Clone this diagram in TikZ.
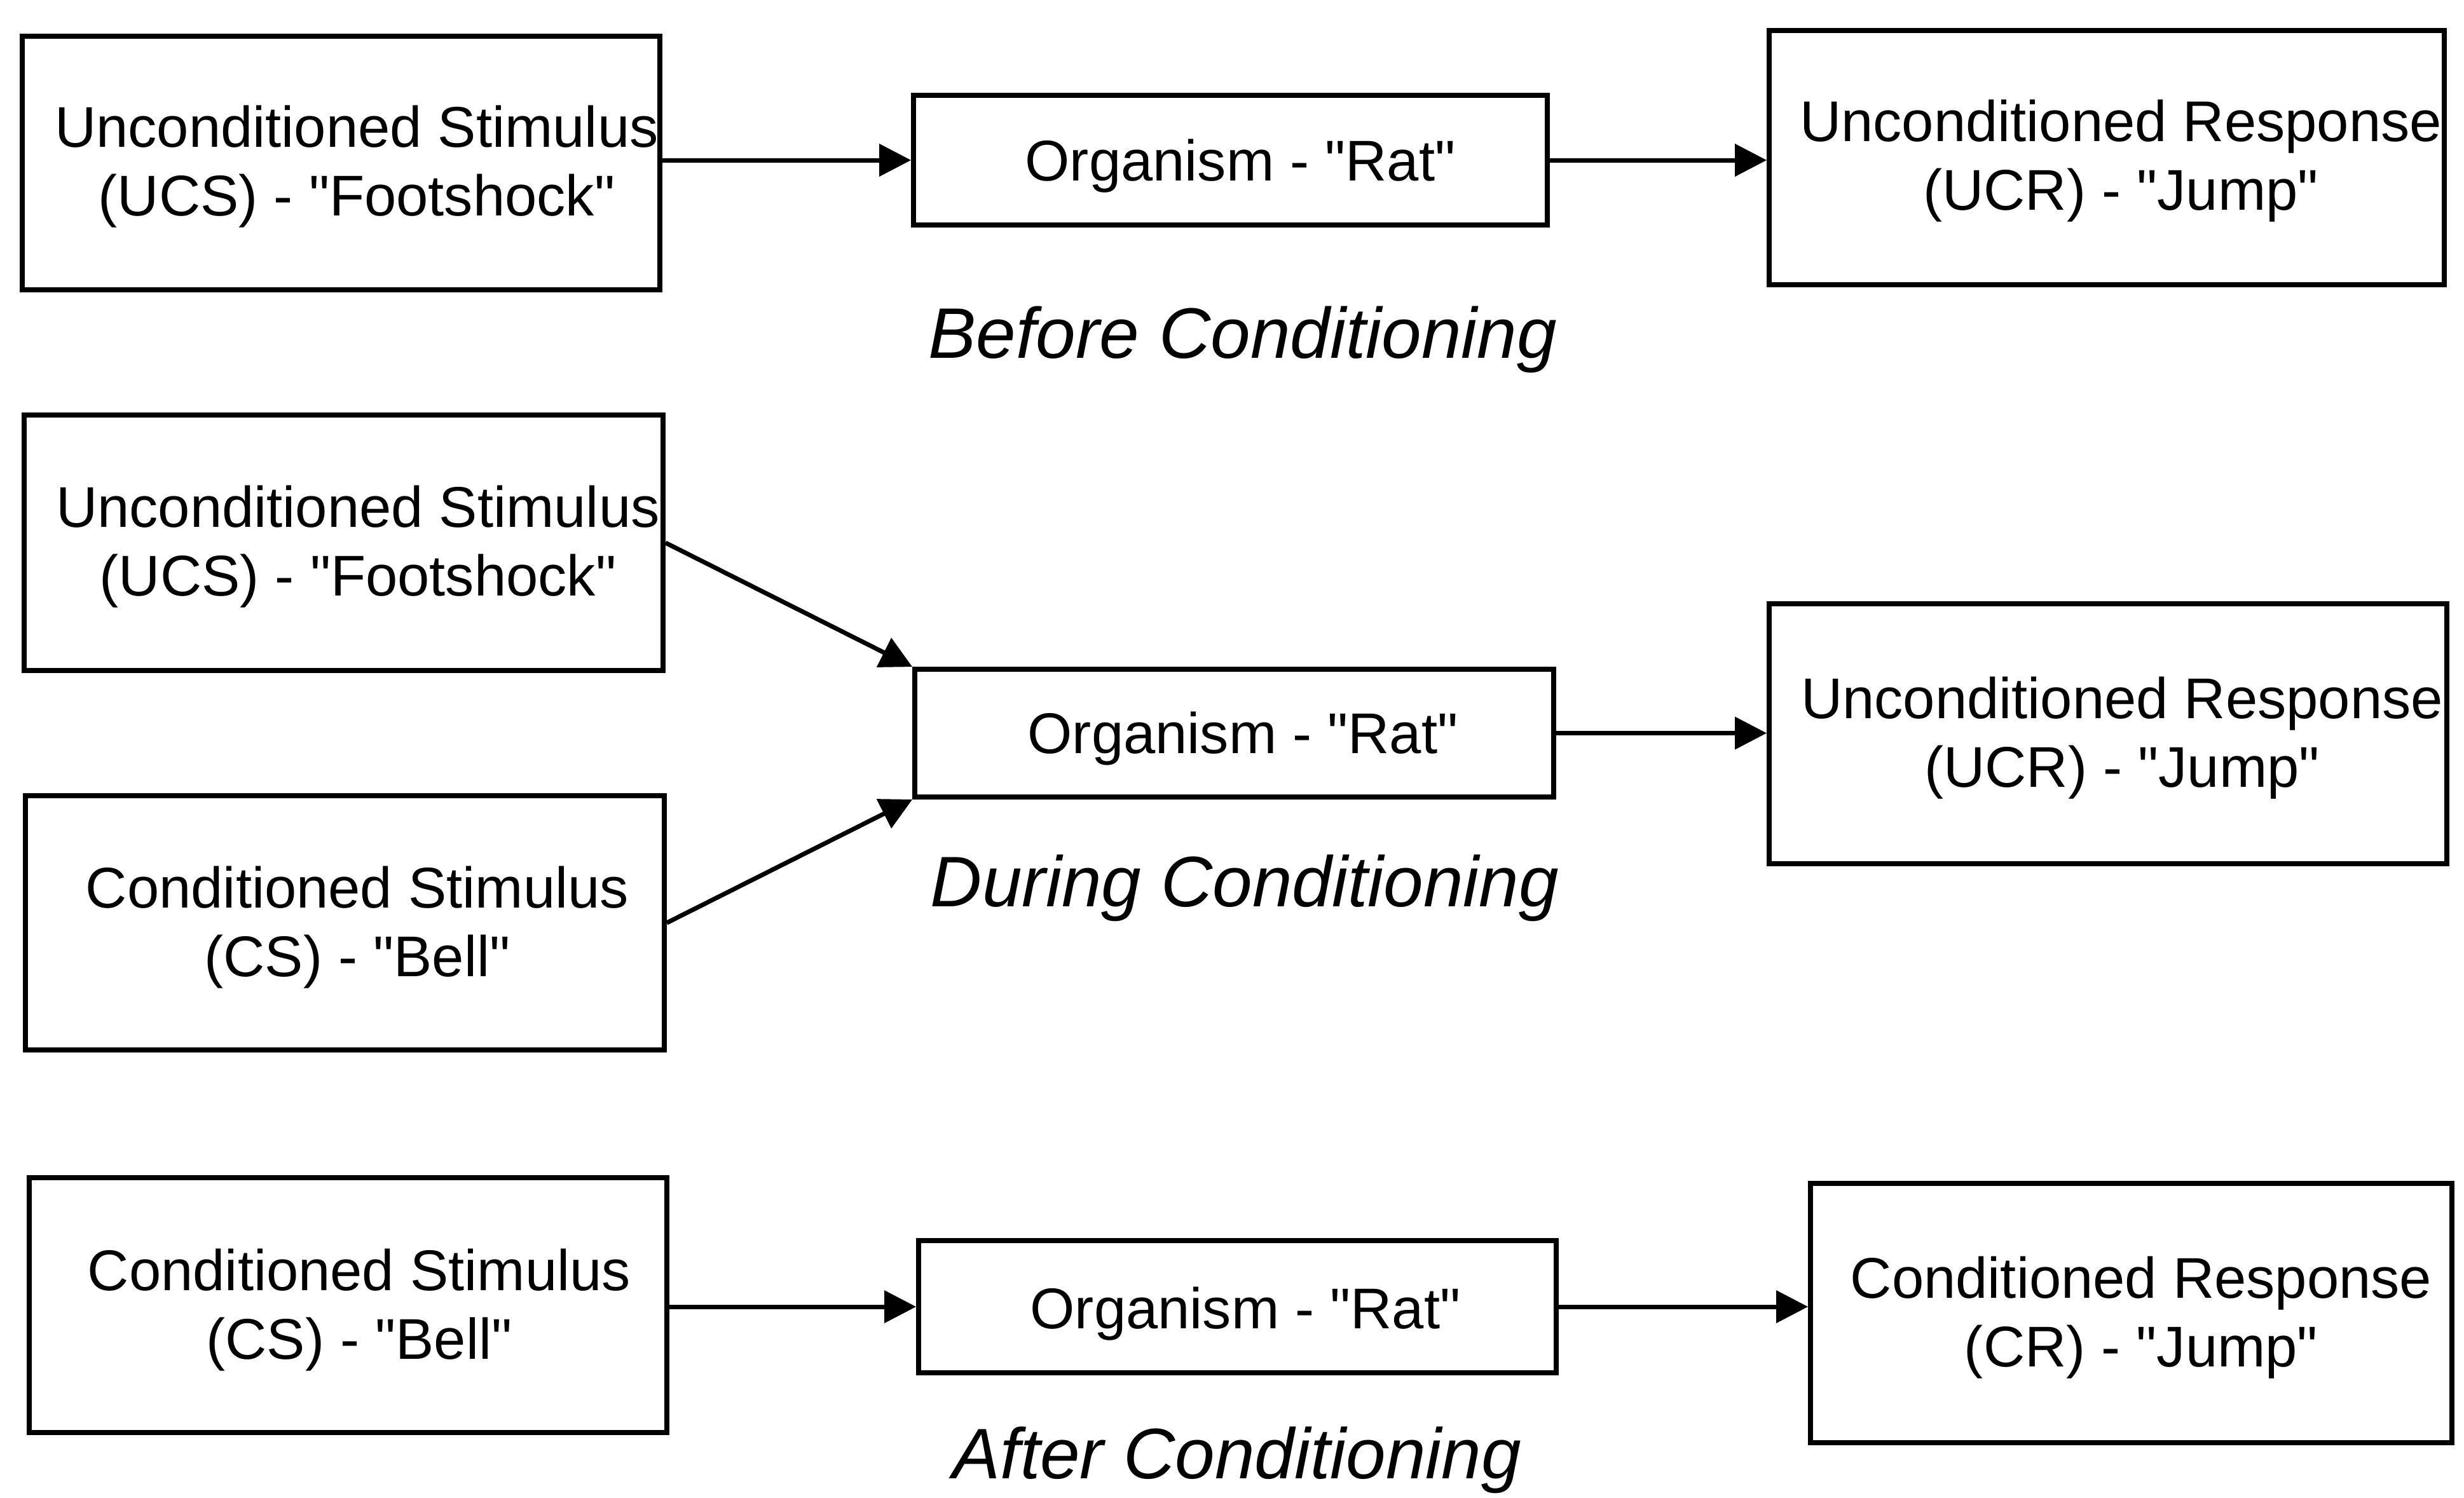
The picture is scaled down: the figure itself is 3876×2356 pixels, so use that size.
\documentclass[tikz,border=0pt]{standalone}
\usepackage{fontspec}
\setmainfont{Liberation Sans}
\usetikzlibrary{arrows.meta,fit}
\newcommand{\q}{\textquotedbl}
\begin{document}
\begin{tikzpicture}[x=0.01cm,y=-0.01cm,
  box/.style={draw,line width=2.2pt,inner sep=0pt},
  lbl/.style={align=center,inner sep=0pt,font=\fontsize{25.7}{30.7}\selectfont},
  phase/.style={anchor=base,inner sep=0pt,font=\fontsize{32}{38}\selectfont\itshape},
  arr/.style={-{Triangle[length=0.5cm,width=0.5cm]},line width=2pt}]
\useasboundingbox (0,0) rectangle (3876,2356);

% ---- Before conditioning ----
\node[box,fit={(35,57) (1038,456)}] (ucs1) {};
\node[box,fit={(1437,150) (2434,354)}] (org1) {};
\node[box,fit={(2783,48) (3845,448)}] (ucr1) {};
\node[lbl] (ucs1t) at (561,262) {Unconditioned Stimulus\\(UCS) - \q Footshock\q};
\node[lbl] (org1t) at (1951,261) {Organism - \q Rat\q};
\node[lbl] (ucr1t) at (3336,253) {Unconditioned Response\\(UCR) - \q Jump\q};
\node[phase] (before) at (1955,563) {Before Conditioning};
\draw[arr] (ucs1.east |- org1.west) -- (org1.west);
\draw[arr] (org1.east) -- (ucr1.west |- org1.east);

% ---- During conditioning ----
\node[box,fit={(38,653) (1043,1055)}] (ucs2) {};
\node[box,fit={(40,1252) (1045,1652)}] (cs2) {};
\node[box,fit={(1439,1053) (2444,1254)}] (org2) {};
\node[box,fit={(2783,950) (3849,1359)}] (ucr2) {};
\node[lbl] (ucs2t) at (563,860) {Unconditioned Stimulus\\(UCS) - \q Footshock\q};
\node[lbl] (cs2t) at (562,1459) {Conditioned Stimulus\\(CS) - \q Bell\q};
\node[lbl] (org2t) at (1955,1162) {Organism - \q Rat\q};
\node[lbl] (ucr2t) at (3338,1161) {Unconditioned Response\\(UCR) - \q Jump\q};
\node[phase] (during) at (1958,1426) {During Conditioning};
\draw[arr] (ucs2.east) -- (org2.north west);
\draw[arr] (cs2.east) -- (org2.south west);
\draw[arr] (org2.east) -- (ucr2.west |- org2.east);

% ---- After conditioning ----
\node[box,fit={(46,1853) (1049,2254)}] (cs3) {};
\node[box,fit={(1445,1952) (2448,2160)}] (org3) {};
\node[box,fit={(2848,1862) (3857,2270)}] (cr3) {};
\node[lbl] (cs3t) at (565,2061) {Conditioned Stimulus\\(CS) - \q Bell\q};
\node[lbl] (org3t) at (1959,2067) {Organism - \q Rat\q};
\node[lbl] (cr3t) at (3368,2073) {Conditioned Response\\(CR) - \q Jump\q};
\node[phase] (after) at (1946,2326) {After Conditioning};
\draw[arr] (cs3.east |- org3.west) -- (org3.west);
\draw[arr] (org3.east) -- (cr3.west |- org3.east);
\end{tikzpicture}
\end{document}
